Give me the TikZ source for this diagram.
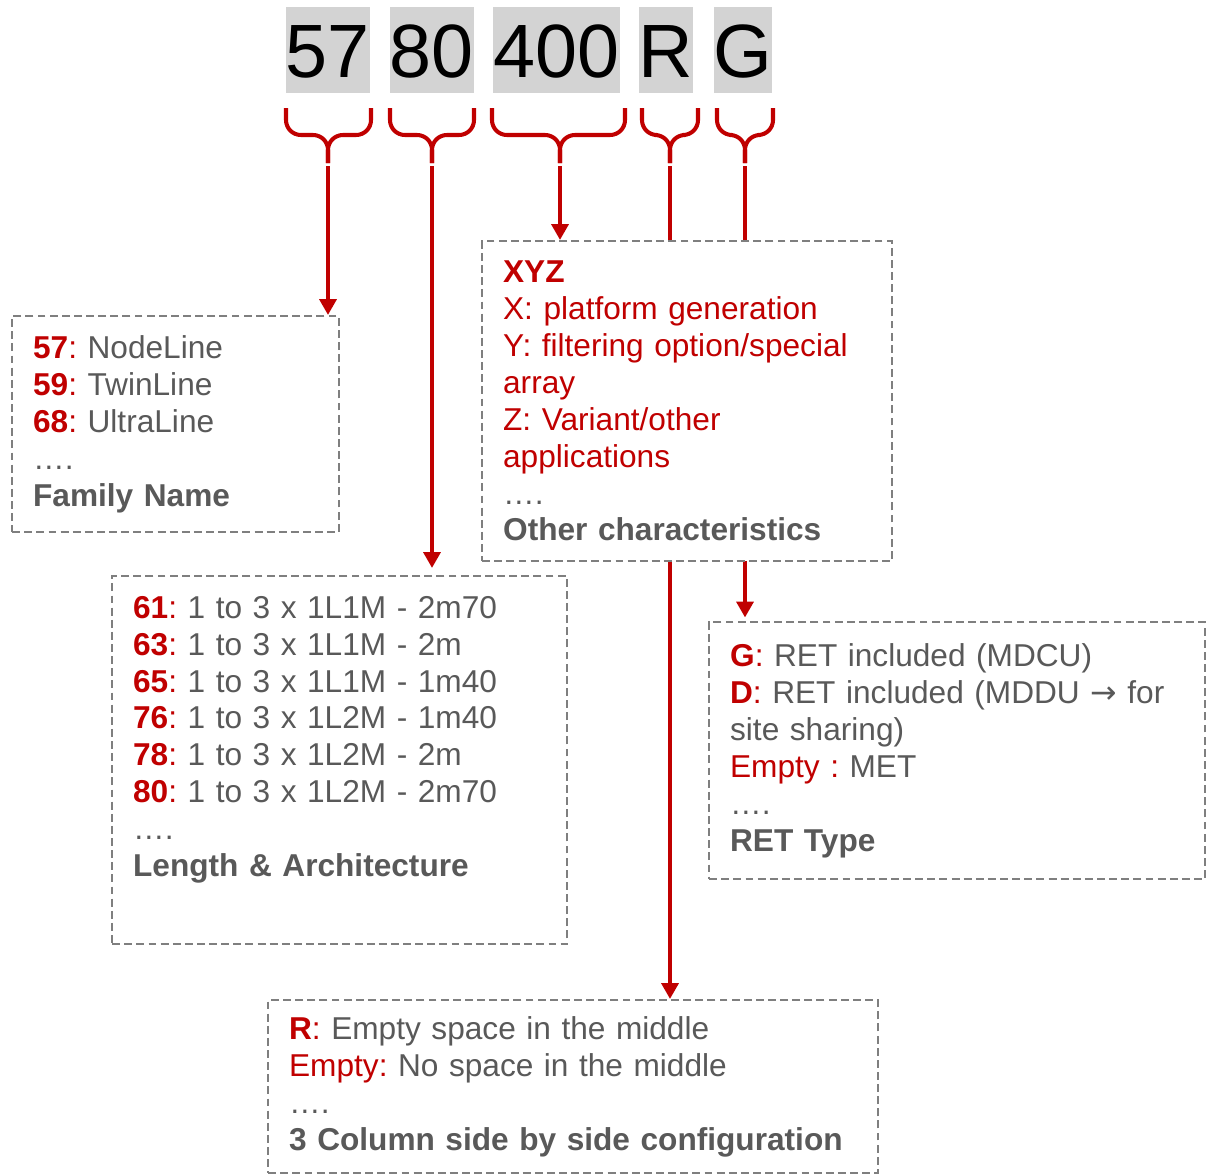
\documentclass[tikz,border=0pt]{standalone}
\usepackage{fontspec}
\setmainfont{Liberation Sans}
\newfontfamily\arrowfont{DejaVu Sans}
\usetikzlibrary{arrows.meta, backgrounds}
\definecolor{codered}{HTML}{C00000}
\definecolor{txtgrey}{HTML}{595959}
\definecolor{dashgrey}{HTML}{7F7F7F}
\definecolor{digitgrey}{HTML}{D3D3D3}
\frenchspacing
\newcommand{\hl}[1]{\textcolor{codered}{\bfseries #1}}
\newcommand{\hr}[1]{\textcolor{codered}{#1}}
\newcommand{\codebrace}[4]{%
  \draw[brace] (#2,108) -- (#2,135) -- (#4,135) -- (#4,163);
  \draw[brace] (#3,108) -- (#3,135) -- (#4,135) -- (#4,163);
  \coordinate (#1) at (#4,166);}

\begin{document}
\begin{tikzpicture}[
  x=0.02cm, y=-0.02cm,
  digit/.style={fill=digitgrey, inner sep=0pt, minimum height=1.72cm,
    font=\fontsize{43}{43}\selectfont, text height=31pt, text depth=0pt},
  info/.style={draw=dashgrey, line width=1.3pt, dash pattern=on 4.5pt off 2.4pt,
    fill=white, anchor=north west, align=left, inner xsep=0.42cm, inner ysep=2pt,
    text=txtgrey, font=\fontsize{18}{21}\selectfont},
  brace/.style={draw=codered, line width=2.3pt, rounded corners=8.5pt},
  arr/.style={draw=codered, line width=2.7pt, -{Triangle[length=9pt, width=9.5pt]}}
]
  \useasboundingbox (0,0) rectangle (1209,1174);

  \node[digit, minimum width=1.68cm] (d57) at (328,50) {57};
  \node[digit, minimum width=1.68cm] (d80) at (432,50) {80};
  \node[digit, minimum width=2.5cm] (d400) at (556.5,50) {400};
  \node[digit, minimum width=1.08cm] (dR) at (666,50) {R};
  \node[digit, minimum width=1.16cm] (dG) at (743,50) {G};

  \codebrace{t57}{286}{371}{328}
  \codebrace{t80}{390}{474}{432}
  \codebrace{t400}{492}{625}{560}
  \codebrace{tR}{642}{698}{670}
  \codebrace{tG}{717}{773}{745}

  \node[info, text width=5.70cm, minimum height=4.32cm] (family) at (11,315)
    {\hl{57}\hr{:} NodeLine\\ \hl{59}\hr{:} TwinLine\\ \hl{68}\hr{:} UltraLine\\ ….\\ \textbf{Family Name}};
  \node[info, text width=7.36cm, minimum height=6.4cm] (xyz) at (481,240)
    {\hl{XYZ}\\ \hr{X: platform generation}\\ \hr{Y: filtering option/special}\\ \hr{array}\\
     \hr{Z: Variant/other}\\ \hr{applications}\\ ….\\ \textbf{Other characteristics}};
  \node[info, text width=8.26cm, minimum height=7.36cm] (length) at (111,575)
    {\hl{61}\hr{:} 1 to 3 x 1L1M - 2m70\\ \hl{63}\hr{:} 1 to 3 x 1L1M - 2m\\
     \hl{65}\hr{:} 1 to 3 x 1L1M - 1m40\\ \hl{76}\hr{:} 1 to 3 x 1L2M - 1m40\\
     \hl{78}\hr{:} 1 to 3 x 1L2M - 2m\\ \hl{80}\hr{:} 1 to 3 x 1L2M - 2m70\\
     ….\\ \textbf{Length \& Architecture}\\[6pt] \mbox{}};
  \node[info, text width=9.08cm, minimum height=5.14cm] (ret) at (708,621)
    {\hl{G}\hr{:} RET included (MDCU)\\ \hl{D}\hr{:} RET included (MDDU {\arrowfont →} for\\
     site sharing)\\ \hr{Empty :} MET\\ ….\\ \textbf{RET Type}};
  \node[info, text width=11.36cm, minimum height=3.46cm] (col3) at (267,999)
    {\hl{R}\hr{:} Empty space in the middle\\ \hr{Empty:} No space in the middle\\
     ….\\ \textbf{3 Column side by side configuration}};

  \begin{scope}[on background layer]
    \draw[arr] (t57) -- (t57 |- family.north);
    \draw[arr, shorten >=4pt] (t80) -- (t80 |- length.north);
    \draw[arr] (t400) -- (t400 |- xyz.north);
    \draw[arr] (tR) -- (tR |- col3.north);
    \draw[arr, shorten >=2pt] (tG) -- (tG |- ret.north);
  \end{scope}
\end{tikzpicture}
\end{document}
